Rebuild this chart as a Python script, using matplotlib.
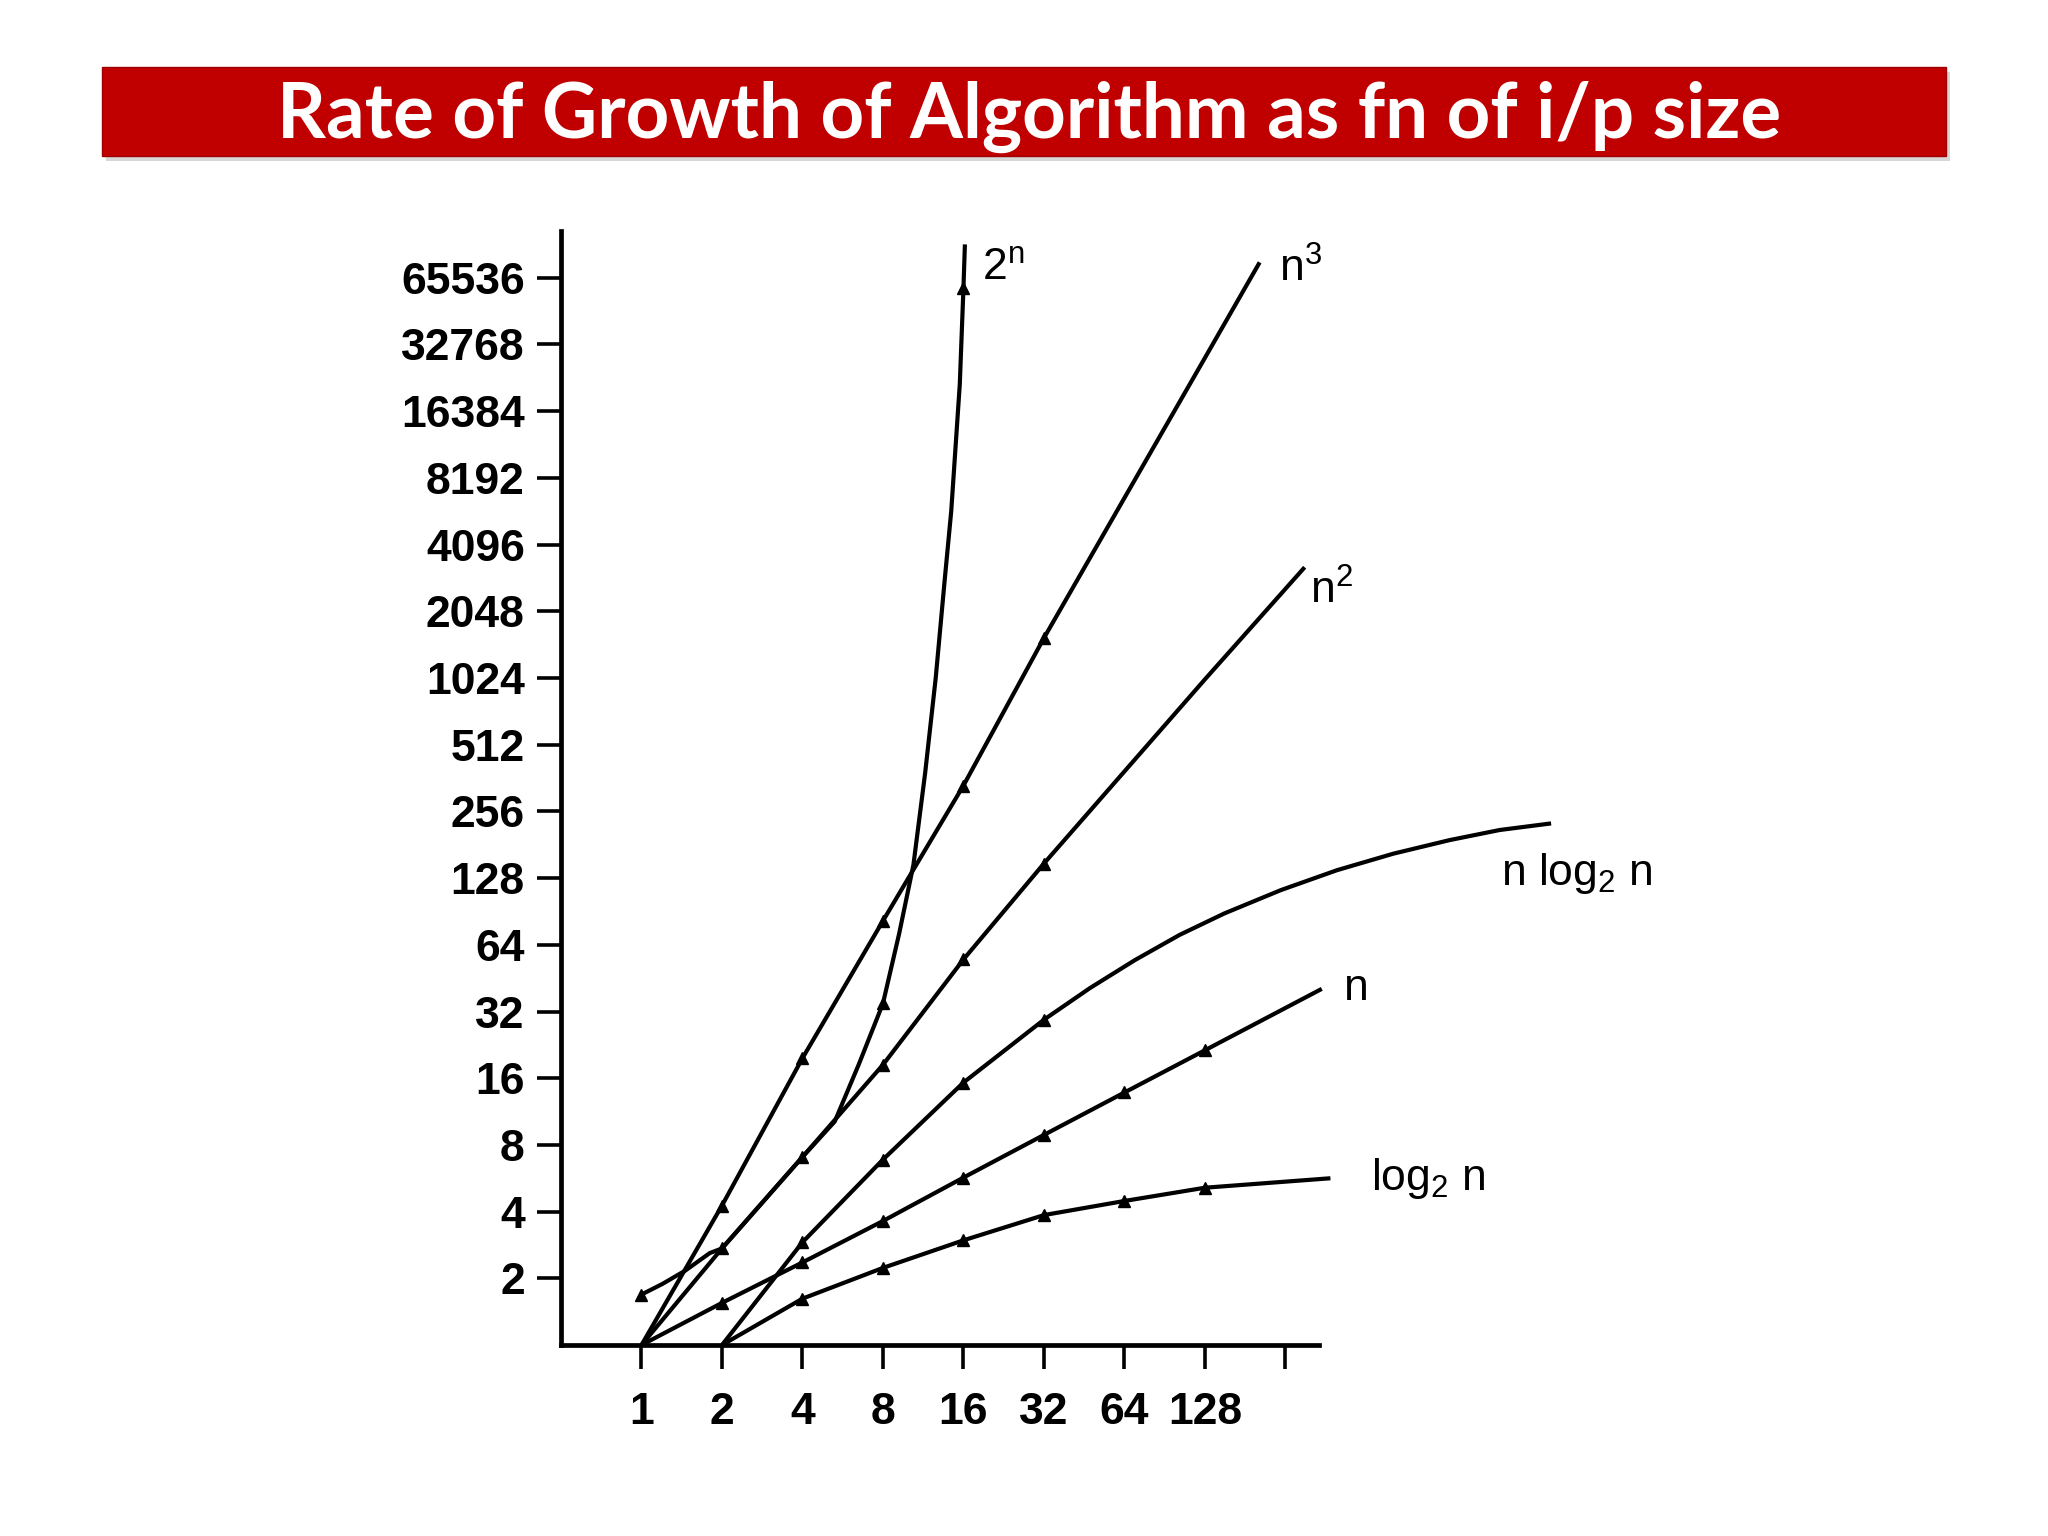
import matplotlib
matplotlib.use('Agg')
import matplotlib.pyplot as plt
from matplotlib.patches import Rectangle
from matplotlib.ticker import NullLocator

plt.rcParams['font.family'] = ['Liberation Sans', 'DejaVu Sans']
plt.rcParams['mathtext.default'] = 'regular'

title = 'Rate of Growth of Algorithm as fn of i/p size'

x_ticks = [1, 2, 4, 8, 16, 32, 64, 128, 256]
x_tick_labels = ['1', '2', '4', '8', '16', '32', '64', '128', '']
y_ticks = [2, 4, 8, 16, 32, 64, 128, 256, 512, 1024, 2048, 4096,
           8192, 16384, 32768, 65536]
y_tick_labels = [str(v) for v in y_ticks]

log_n_x = [2, 4, 8, 16, 32, 64, 128, 377]
log_n_y = [1, 1.62, 2.23, 2.97, 3.86, 4.47, 5.13, 5.66]

lin_x = [1, 2, 4, 8, 16, 32, 64, 128, 350]
lin_y = [1, 1.55, 2.36, 3.63, 5.70, 8.88, 13.8, 21.4, 40.5]

nlogn_x = [2, 4, 8, 16, 32, 47.5, 70, 103, 151, 246, 399, 648, 1052, 1618, 2521]
nlogn_y = [1, 2.91, 6.87, 15.3, 29.4, 40.8, 54.6, 71.0, 88.6, 113, 139, 165, 190, 211, 226]

sq_x = [1, 2, 4, 8, 16, 32, 64, 128, 302]
sq_y = [1, 2.73, 7.06, 18.4, 55.0, 149, 388, 1010, 3236]

cube_x = [1, 2, 4, 8, 16, 32, 64, 128, 205]
cube_y = [1, 4.26, 19.7, 82.1, 335, 1552, 6654, 28526, 76900]

exp_x = [1, 1.20, 1.46, 1.80, 2, 4, 5.28, 6.5, 8, 9.2, 10.4, 11.5, 12.6, 13.6, 14.4, 15.5, 16, 16.2]
exp_y = [1.69, 1.89, 2.17, 2.60, 2.73, 7.06, 10.2, 18.5, 34.8, 72, 147, 380, 1024, 2800, 5793, 21619, 59000, 92682]

# (x, y, which points carry a tick mark, label, label offset in points)
curves = [
    (log_n_x, log_n_y, [1, 2, 3, 4, 5, 6], r'log$_2$ n', (29, 0)),
    (lin_x, lin_y, [1, 2, 3, 4, 5, 6, 7], 'n', (16, 0)),
    (nlogn_x, nlogn_y, [1, 2, 3, 4], r'n log$_2$ n', (-36, -36)),
    (sq_x, sq_y, [1, 2, 3, 4, 5], r'n$^2$', (4, -17)),
    (cube_x, cube_y, [1, 2, 3, 4, 5], r'n$^3$', (14, -5)),
    (exp_x, exp_y, [0, 8, 16], r'2$^n$', (12, -17)),
]

fig = plt.figure(figsize=(20.48, 15.36), dpi=100)

# red title banner with a soft shadow
fig.patches.append(Rectangle((0.0518, 0.8950), 0.9004, 0.0579, transform=fig.transFigure,
                             facecolor='#b0b0b0', alpha=0.5, edgecolor='none'))
fig.patches.append(Rectangle((0.0498, 0.8984), 0.9004, 0.0579, transform=fig.transFigure,
                             facecolor='#c00000', edgecolor='#a00000', linewidth=1))
t = fig.text(0.5024, 1 - 138 / 1536, title, color='white', fontsize=56, fontweight='bold',
             family=['Lato', 'DejaVu Sans'], ha='center', va='baseline')
fig.canvas.draw()
w = t.get_window_extent().width
t.set_fontsize(56 * 1507 / w)

ax = fig.add_axes([0.2739, 0.1243, 0.511, 0.7383])
ax.set_xscale('log', base=2)
ax.set_yscale('log', base=2)
ax.set_xlim(0.5, 2 ** 12)
ax.set_ylim(1, 2 ** 17)

for x, y, marks, label, off in curves:
    ax.plot(x, y, color='black', linewidth=3.0, marker='^', markersize=8,
            markevery=marks, solid_capstyle='butt', solid_joinstyle='round', clip_on=False)
    ax.annotate(label, xy=(x[-1], y[-1]), xytext=off, textcoords='offset points',
                ha='left', va='center', fontsize=32)

for side in ['top', 'right']:
    ax.spines[side].set_visible(False)
ax.spines['left'].set_bounds(1, 2 ** 16.7)
ax.spines['bottom'].set_bounds(0.5, 2 ** 8.42)
ax.spines['left'].set_linewidth(3.4)
ax.spines['bottom'].set_linewidth(3.4)

ax.set_xticks(x_ticks, x_tick_labels)
ax.set_yticks(y_ticks, y_tick_labels)
ax.xaxis.set_minor_locator(NullLocator())
ax.yaxis.set_minor_locator(NullLocator())
ax.tick_params(axis='both', length=17, width=2.6, labelsize=32)
ax.tick_params(axis='x', pad=17)
ax.tick_params(axis='y', pad=9)
for lbl in ax.get_xticklabels() + ax.get_yticklabels():
    lbl.set_fontweight('bold')

fig.savefig('out.png', dpi=100)
